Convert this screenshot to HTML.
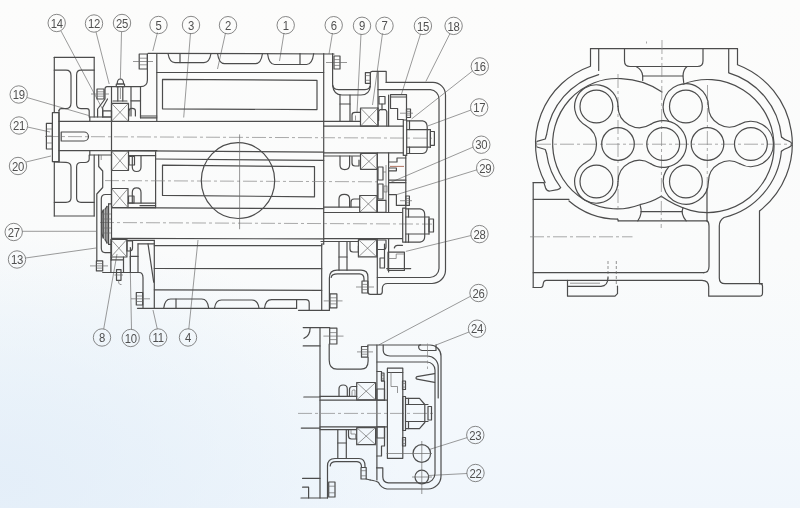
<!DOCTYPE html>
<html><head><meta charset="utf-8"><title>Roots blower sectional drawing</title>
<style>
html,body{margin:0;padding:0;background:#f8fafb;}
body{width:800px;height:508px;overflow:hidden;}
svg{display:block;}
.m{fill:none;stroke:#4c4c4c;stroke-width:1.2;stroke-linecap:round;stroke-linejoin:round;}
.t{fill:none;stroke:#6a6a6a;stroke-width:0.7;}
.ld{fill:none;stroke:#707070;stroke-width:0.7;}
.cl{fill:none;stroke:#858585;stroke-width:0.7;stroke-dasharray:14 3 3 3;}
.dash{fill:none;stroke:#666;stroke-width:0.7;stroke-dasharray:3 2;}
.red{fill:none;stroke:#a0523c;stroke-width:0.8;}
.lc{fill:none;stroke:#6a6a6a;stroke-width:0.8;}
.lt{font-family:"Liberation Sans",sans-serif;font-size:13px;fill:#505050;text-anchor:middle;letter-spacing:-0.3px;}
</style></head><body>
<svg width="800" height="508" viewBox="0 0 800 508">
<defs>
<linearGradient id="bg" x1="0" y1="0" x2="0" y2="1"><stop offset="0" stop-color="#fcfcfb"/><stop offset="0.5" stop-color="#fafbfb"/><stop offset="0.75" stop-color="#f5f9fc"/><stop offset="1" stop-color="#f0f6fc"/></linearGradient>
<radialGradient id="bl" cx="0" cy="0.95" r="0.5"><stop offset="0" stop-color="#e2edf8" stop-opacity="0.85"/><stop offset="1" stop-color="#dcebf7" stop-opacity="0"/></radialGradient>
</defs>
<rect width="800" height="508" fill="url(#bg)"/>
<rect width="800" height="508" fill="url(#bl)"/>
<circle class="lc" cx="56.7" cy="23.0" r="8.7"/>
<line class="ld" x1="61.0" y1="31.0" x2="103.0" y2="110.0"/>
<circle class="lc" cx="94.0" cy="23.5" r="8.7"/>
<line class="ld" x1="96.0" y1="32.0" x2="109.2" y2="84.0"/>
<circle class="lc" cx="122.0" cy="23.0" r="8.7"/>
<line class="ld" x1="121.5" y1="32.0" x2="120.4" y2="79.0"/>
<circle class="lc" cx="158.5" cy="25.0" r="8.7"/>
<line class="ld" x1="157.5" y1="32.5" x2="152.8" y2="51.0"/>
<circle class="lc" cx="191.0" cy="25.0" r="8.7"/>
<line class="ld" x1="190.5" y1="33.0" x2="183.7" y2="117.5"/>
<circle class="lc" cx="228.0" cy="25.2" r="8.7"/>
<line class="ld" x1="225.5" y1="33.0" x2="217.5" y2="69.0"/>
<circle class="lc" cx="285.7" cy="25.2" r="8.7"/>
<line class="ld" x1="284.0" y1="33.0" x2="279.5" y2="61.0"/>
<circle class="lc" cx="333.7" cy="25.2" r="8.7"/>
<line class="ld" x1="332.5" y1="33.0" x2="329.0" y2="54.0"/>
<circle class="lc" cx="362.0" cy="25.8" r="8.7"/>
<line class="ld" x1="361.0" y1="34.0" x2="357.0" y2="112.5"/>
<circle class="lc" cx="384.5" cy="25.8" r="8.7"/>
<line class="ld" x1="382.5" y1="33.5" x2="372.5" y2="105.0"/>
<circle class="lc" cx="422.9" cy="25.9" r="8.7"/>
<line class="ld" x1="420.5" y1="34.0" x2="401.5" y2="94.0"/>
<circle class="lc" cx="453.6" cy="25.9" r="8.7"/>
<line class="ld" x1="450.0" y1="33.5" x2="425.9" y2="81.4"/>
<circle class="lc" cx="479.8" cy="66.4" r="8.7"/>
<line class="ld" x1="472.5" y1="71.0" x2="411.5" y2="119.0"/>
<circle class="lc" cx="479.2" cy="107.4" r="8.7"/>
<line class="ld" x1="471.0" y1="110.0" x2="427.7" y2="126.0"/>
<circle class="lc" cx="481.3" cy="144.7" r="8.7"/>
<line class="ld" x1="473.3" y1="147.0" x2="390.0" y2="182.7"/>
<circle class="lc" cx="485.2" cy="167.9" r="8.7"/>
<line class="ld" x1="477.0" y1="169.8" x2="396.4" y2="194.7"/>
<circle class="lc" cx="479.5" cy="234.1" r="8.7"/>
<line class="ld" x1="471.0" y1="235.5" x2="405.8" y2="251.4"/>
<circle class="lc" cx="478.5" cy="293.0" r="8.7"/>
<line class="ld" x1="471.0" y1="296.0" x2="378.7" y2="345.0"/>
<circle class="lc" cx="477.0" cy="328.7" r="8.7"/>
<line class="ld" x1="469.0" y1="332.0" x2="436.0" y2="345.0"/>
<circle class="lc" cx="475.3" cy="435.0" r="8.7"/>
<line class="ld" x1="467.2" y1="437.6" x2="428.7" y2="449.7"/>
<circle class="lc" cx="475.5" cy="473.0" r="8.7"/>
<line class="ld" x1="467.0" y1="473.5" x2="428.7" y2="475.5"/>
<circle class="lc" cx="18.7" cy="94.5" r="8.7"/>
<line class="ld" x1="27.0" y1="97.5" x2="88.7" y2="115.5"/>
<circle class="lc" cx="19.0" cy="125.5" r="8.7"/>
<line class="ld" x1="27.5" y1="127.0" x2="50.0" y2="132.0"/>
<circle class="lc" cx="18.0" cy="166.0" r="8.7"/>
<line class="ld" x1="26.0" y1="162.0" x2="51.0" y2="156.0"/>
<circle class="lc" cx="13.7" cy="232.0" r="8.7"/>
<line class="ld" x1="22.3" y1="231.3" x2="96.0" y2="231.3"/>
<circle class="lc" cx="17.0" cy="259.5" r="8.7"/>
<line class="ld" x1="25.5" y1="258.0" x2="96.0" y2="248.0"/>
<circle class="lc" cx="102.0" cy="337.5" r="8.7"/>
<line class="ld" x1="103.7" y1="329.0" x2="117.0" y2="254.0"/>
<circle class="lc" cx="130.7" cy="338.0" r="8.7"/>
<line class="ld" x1="131.5" y1="329.3" x2="130.0" y2="256.0"/>
<circle class="lc" cx="158.2" cy="337.5" r="8.7"/>
<line class="ld" x1="157.3" y1="329.0" x2="153.0" y2="310.0"/>
<circle class="lc" cx="188.0" cy="337.5" r="8.7"/>
<line class="ld" x1="188.8" y1="329.0" x2="198.0" y2="240.0"/>
<line class="m" x1="148.0" y1="53.3" x2="334.0" y2="54.0"/>
<line class="m" x1="156.8" y1="72.5" x2="323.7" y2="72.5"/>
<line class="m" x1="156.8" y1="53.5" x2="156.8" y2="121.5"/>
<line class="m" x1="155.6" y1="151.5" x2="155.6" y2="207.6"/>
<line class="m" x1="154.3" y1="240.4" x2="154.3" y2="308.3"/>
<line class="m" x1="323.7" y1="53.5" x2="323.7" y2="244.0"/>
<line class="m" x1="321.7" y1="244.0" x2="321.7" y2="310.3"/>
<line class="m" x1="321.7" y1="244.0" x2="323.7" y2="244.0"/>
<line class="m" x1="137.5" y1="308.3" x2="296.6" y2="308.3"/>
<line class="m" x1="298.5" y1="310.3" x2="329.4" y2="310.3"/>
<line class="m" x1="154.3" y1="289.8" x2="321.7" y2="290.4"/>
<line class="m" x1="154.3" y1="245.7" x2="321.7" y2="245.7"/>
<line class="m" x1="154.3" y1="268.5" x2="321.7" y2="268.7"/>
<path class="m" d="M168,53.5 Q169.5,62.6 175,62.6 L204,62.6 Q209.5,62.6 211,53.5"/>
<line class="m" x1="180.0" y1="53.5" x2="180.0" y2="62.6"/>
<path class="m" d="M217.5,53.5 Q219.0,63.7 224.5,63.7 L255.5,63.7 Q261.0,63.7 262.5,53.5"/>
<path class="m" d="M267.5,53.5 Q269.0,64.5 274.5,64.5 L306.7,64.5 Q312.2,64.5 313.7,53.5"/>
<line class="m" x1="300.0" y1="53.5" x2="300.0" y2="64.5"/>
<path class="m" d="M163.7,308.3 Q164.7,299 170.7,299 L201.7,299 Q207.7,299 208.7,308.3"/>
<line class="m" x1="176.0" y1="308.3" x2="176.0" y2="299.0"/>
<path class="m" d="M214.5,308.3 Q215.5,300 221.5,300 L252,300 Q258,300 259,308.3"/>
<path class="m" d="M264.5,308.3 Q265.5,299.6 271.5,299.6 L306,299.6 Q309.2,299.6 309.2,303 L309.2,310.3"/>
<line class="m" x1="296.6" y1="299.6" x2="296.6" y2="308.3"/>
<path class="m" d="M162.5,79.4 L317.0,80.3 L317.0,109.6 L162.5,108.8 Z"/>
<path class="m" d="M162.5,165.1 L314.5,166.7 L314.5,196.8 L162.5,195.4 Z"/>
<line class="m" x1="111.5" y1="121.5" x2="323.7" y2="121.4"/>
<line class="m" x1="111.5" y1="150.7" x2="323.7" y2="152.1"/>
<line class="m" x1="155.6" y1="159.0" x2="323.7" y2="160.4"/>
<line class="m" x1="111.5" y1="207.6" x2="323.7" y2="208.7"/>
<line class="m" x1="111.5" y1="238.4" x2="323.7" y2="238.9"/>
<line class="cl" x1="45.0" y1="136.5" x2="432.0" y2="138.2"/>
<line class="cl" x1="105.0" y1="180.6" x2="378.0" y2="181.8"/>
<line class="cl" x1="100.0" y1="222.5" x2="432.0" y2="224.1"/>
<ellipse class="m" cx="238" cy="180.6" rx="36.7" ry="37.9"/>
<line class="t" x1="239.6" y1="134.4" x2="239.6" y2="229.2"/>
<line class="m" x1="54.3" y1="57.3" x2="94.2" y2="57.3"/>
<line class="m" x1="54.3" y1="57.3" x2="54.3" y2="112.5"/>
<line class="m" x1="54.3" y1="161.7" x2="54.3" y2="216.0"/>
<line class="m" x1="94.2" y1="57.3" x2="94.2" y2="117.0"/>
<line class="m" x1="94.2" y1="155.0" x2="94.2" y2="216.0"/>
<line class="m" x1="54.3" y1="216.0" x2="94.2" y2="216.0"/>
<path class="m" d="M54.3,70.2 L66,70.2 Q71,70.2 71,75.5 L71,103 Q71,108.6 66,108.6 L61,108.6 Q59,108.8 59,110.5"/>
<path class="m" d="M94.2,70.2 L81,70.2 Q76.6,70.2 76.6,75 L76.6,104 Q76.6,108.6 81,108.6 L87,108.6 Q89.2,108.6 89.2,111 L89.2,117"/>
<path class="m" d="M54.3,162 L66,162.3 Q71,162.5 71,167 L71,198 Q71,202.3 66,202.3 L54.3,202.3"/>
<path class="m" d="M89.2,155 L89.2,159 Q89,162.3 85,162.5 L81,162.5 Q76.6,162.5 76.6,167 L76.6,198 Q76.6,202.3 81,202.3 L94.2,202.3"/>
<line class="m" x1="59.0" y1="110.5" x2="59.0" y2="161.7"/>
<rect class="m" x="52.4" y="112.6" width="6.6" height="49.1"/>
<rect class="m" x="46.4" y="123.3" width="6.0" height="25.7"/>
<line class="t" x1="46.4" y1="129.0" x2="52.4" y2="129.0"/>
<line class="t" x1="46.4" y1="136.0" x2="52.4" y2="136.0"/>
<line class="t" x1="46.4" y1="143.0" x2="52.4" y2="143.0"/>
<line class="m" x1="59.0" y1="121.4" x2="111.5" y2="121.4"/>
<line class="m" x1="59.0" y1="150.6" x2="111.5" y2="150.6"/>
<line class="m" x1="111.5" y1="87.0" x2="111.5" y2="260.0"/>
<line class="m" x1="89.8" y1="117.0" x2="111.5" y2="117.0"/>
<line class="m" x1="89.8" y1="117.0" x2="89.8" y2="121.4"/>
<line class="m" x1="89.8" y1="155.0" x2="111.5" y2="155.0"/>
<line class="m" x1="89.8" y1="150.6" x2="89.8" y2="155.0"/>
<path class="m" d="M61.2,132 L84,132 A4.5,4.5 0 0 1 84,141 L61.2,141 Z"/>
<rect class="m" x="139.2" y="54.0" width="8.2" height="15.0"/>
<line class="t" x1="139.2" y1="58.2" x2="147.4" y2="58.2"/>
<line class="t" x1="139.2" y1="64.8" x2="147.4" y2="64.8"/>
<line class="t" x1="133.0" y1="61.5" x2="153.0" y2="61.5"/>
<path class="m" d="M147.4,54 L147.4,80 Q147.4,86.6 140.5,86.6 L107,86.6 Q105,86.8 105,89 L105,99 L97.6,109 L97.6,117"/>
<rect class="m" x="97.0" y="89.0" width="7.0" height="10.0"/>
<line class="t" x1="97.0" y1="91.8" x2="104.0" y2="91.8"/>
<line class="t" x1="97.0" y1="96.2" x2="104.0" y2="96.2"/>
<line class="t" x1="91.0" y1="94.0" x2="109.0" y2="94.0"/>
<line class="m" x1="131.0" y1="86.6" x2="131.0" y2="116.0"/>
<line class="m" x1="140.5" y1="86.6" x2="140.5" y2="117.8"/>
<line class="m" x1="131.0" y1="100.8" x2="140.5" y2="100.8"/>
<line class="m" x1="140.5" y1="116.0" x2="156.8" y2="116.0"/>
<line class="m" x1="140.5" y1="117.8" x2="156.8" y2="117.8"/>
<path class="m" d="M107.5,99.0 L102.7,107.5 L102.7,117.0"/>
<rect class="m" x="102.7" y="110.8" width="8.8" height="6.2"/>
<path class="m" d="M117.2,84 Q117.2,79 120.4,79 Q123.6,79 123.6,84 Z"/>
<rect class="m" x="116.3" y="84.0" width="8.2" height="2.6"/>
<line class="m" x1="117.8" y1="86.6" x2="117.8" y2="101.0"/>
<line class="m" x1="122.8" y1="86.6" x2="122.8" y2="101.0"/>
<line class="m" x1="113.0" y1="101.0" x2="127.0" y2="101.0"/>
<line class="t" x1="120.4" y1="88.0" x2="120.4" y2="99.0"/>
<rect class="m" x="111.5" y="103.3" width="17.0" height="18.0"/>
<line class="t" x1="111.5" y1="103.3" x2="128.5" y2="121.3"/>
<line class="t" x1="111.5" y1="121.3" x2="128.5" y2="103.3"/>
<path class="m" d="M129,116 L129,111 Q129,108.3 132,108.3 Q135.4,108.3 135.4,111 L135.4,116"/>
<rect class="m" x="111.5" y="151.0" width="17.0" height="19.5"/>
<line class="t" x1="111.5" y1="151.0" x2="128.5" y2="170.5"/>
<line class="t" x1="111.5" y1="170.5" x2="128.5" y2="151.0"/>
<rect class="m" x="111.5" y="188.5" width="16.5" height="19.1"/>
<line class="t" x1="111.5" y1="188.5" x2="128.0" y2="207.6"/>
<line class="t" x1="111.5" y1="207.6" x2="128.0" y2="188.5"/>
<rect class="m" x="110.9" y="239.4" width="16.0" height="17.6"/>
<line class="t" x1="110.9" y1="239.4" x2="126.9" y2="257.0"/>
<line class="t" x1="110.9" y1="257.0" x2="126.9" y2="239.4"/>
<line class="m" x1="128.5" y1="150.7" x2="156.8" y2="150.7"/>
<line class="m" x1="128.5" y1="155.7" x2="155.6" y2="155.7"/>
<path class="m" d="M132.3,155.7 L132.3,167 Q132.3,171.5 136.6,171.5 Q141,171.5 141,167 L141,155.7"/>
<path class="m" d="M132.3,203 L132.3,192.5 Q132.3,187.9 136.6,187.9 Q141,187.9 141,192.5 L141,203"/>
<rect class="m" x="129.0" y="156.4" width="5.5" height="8.6"/>
<rect class="m" x="128.5" y="196.0" width="5.5" height="7.0"/>
<line class="m" x1="128.0" y1="203.2" x2="155.6" y2="203.2"/>
<line class="m" x1="140.0" y1="205.7" x2="155.6" y2="205.7"/>
<line class="m" x1="128.0" y1="207.6" x2="155.6" y2="207.6"/>
<path class="m" d="M98.7,155.0 L98.7,166.5 L102.7,171.0 L102.7,187.5 L96.8,194.0 L96.8,261.0"/>
<path class="t" d="M101.2,155.0 L101.2,160.0"/>
<path class="m" d="M111.2,194.5 L105.5,194.5 Q101.3,194.5 101.3,199 L101.3,248 Q101.3,252.6 105,252.6 L110.9,252.6"/>
<line class="m" x1="102.0" y1="212.7" x2="102.0" y2="234.0"/>
<line class="m" x1="103.3" y1="210.0" x2="103.3" y2="238.0"/>
<line class="m" x1="105.2" y1="209.0" x2="105.2" y2="239.7"/>
<line class="m" x1="107.0" y1="206.4" x2="107.0" y2="243.0"/>
<line class="m" x1="108.6" y1="203.8" x2="108.6" y2="244.3"/>
<line class="m" x1="108.6" y1="203.8" x2="110.9" y2="203.8"/>
<line class="m" x1="108.6" y1="244.3" x2="110.9" y2="244.3"/>
<line class="m" x1="102.0" y1="212.7" x2="103.3" y2="210.0"/>
<line class="m" x1="102.0" y1="234.0" x2="103.3" y2="238.0"/>
<line class="m" x1="105.2" y1="209.0" x2="107.0" y2="206.4"/>
<line class="m" x1="105.2" y1="239.7" x2="107.0" y2="243.0"/>
<line class="t" x1="102.0" y1="214.0" x2="110.9" y2="214.0"/>
<line class="t" x1="102.0" y1="219.0" x2="110.9" y2="219.0"/>
<line class="t" x1="102.0" y1="228.0" x2="110.9" y2="228.0"/>
<line class="t" x1="102.0" y1="233.0" x2="110.9" y2="233.0"/>
<rect class="m" x="96.4" y="260.8" width="6.3" height="10.1"/>
<line class="t" x1="96.4" y1="263.6" x2="102.7" y2="263.6"/>
<line class="t" x1="96.4" y1="268.1" x2="102.7" y2="268.1"/>
<line class="t" x1="90.0" y1="265.9" x2="108.0" y2="265.9"/>
<path class="m" d="M102.7,272.5 L139.2,272.5 Q143,272.5 143,277.8 L143,308.3"/>
<line class="m" x1="110.9" y1="257.0" x2="110.9" y2="272.5"/>
<line class="m" x1="123.5" y1="257.0" x2="123.5" y2="272.5"/>
<line class="m" x1="110.9" y1="259.8" x2="123.5" y2="259.8"/>
<rect class="m" x="116.5" y="269.6" width="4.5" height="10.7"/>
<line class="t" x1="114.5" y1="275.0" x2="123.0" y2="275.0"/>
<path class="t" d="M118.7,280.3 L118.7,283 Q119.5,285 121.5,284.5"/>
<line class="m" x1="130.4" y1="247.5" x2="130.4" y2="272.5"/>
<line class="m" x1="138.0" y1="243.8" x2="138.0" y2="272.5"/>
<line class="m" x1="130.4" y1="256.4" x2="138.0" y2="256.4"/>
<path class="m" d="M127,251 L127,241 L132.5,241 L132.5,248 Q132.5,251 129.5,251 Z"/>
<line class="m" x1="127.0" y1="240.4" x2="154.3" y2="240.4"/>
<line class="m" x1="138.0" y1="243.8" x2="154.3" y2="243.8"/>
<line class="m" x1="148.0" y1="243.8" x2="153.7" y2="282.2"/>
<rect class="m" x="136.3" y="292.5" width="6.4" height="12.5"/>
<line class="t" x1="136.3" y1="296.0" x2="142.7" y2="296.0"/>
<line class="t" x1="136.3" y1="301.5" x2="142.7" y2="301.5"/>
<line class="t" x1="131.0" y1="298.8" x2="150.0" y2="298.8"/>
<rect class="m" x="334.0" y="56.0" width="6.0" height="13.0"/>
<line class="t" x1="334.0" y1="59.6" x2="340.0" y2="59.6"/>
<line class="t" x1="334.0" y1="65.4" x2="340.0" y2="65.4"/>
<line class="t" x1="326.0" y1="62.5" x2="347.0" y2="62.5"/>
<path class="m" d="M332.6,53.5 L332.6,84 Q332.6,89.6 338.5,89.6 L365,89.6 Q370.4,89.6 370.4,84 L370.4,73 Q370.6,71.3 372.3,71.3 L386.2,71.3 L386.2,82.4"/>
<path class="m" d="M332.6,85 Q333.5,95 342,95 L361,95 Q369.5,95 370.4,86"/>
<rect class="m" x="365.4" y="72.6" width="5.0" height="10.7"/>
<line class="t" x1="365.4" y1="75.6" x2="370.4" y2="75.6"/>
<line class="t" x1="365.4" y1="80.3" x2="370.4" y2="80.3"/>
<line class="m" x1="378.0" y1="71.3" x2="378.0" y2="108.0"/>
<line class="m" x1="340.0" y1="95.0" x2="340.0" y2="121.3"/>
<line class="m" x1="350.0" y1="95.0" x2="350.0" y2="121.3"/>
<line class="m" x1="340.0" y1="104.0" x2="350.0" y2="104.0"/>
<line class="m" x1="323.7" y1="121.3" x2="360.5" y2="121.3"/>
<line class="m" x1="323.7" y1="126.1" x2="403.5" y2="126.1"/>
<line class="m" x1="323.7" y1="152.8" x2="403.5" y2="152.8"/>
<line class="m" x1="323.7" y1="156.0" x2="360.5" y2="156.0"/>
<rect class="m" x="360.5" y="108.0" width="17.5" height="18.1"/>
<line class="t" x1="360.5" y1="108.0" x2="378.0" y2="126.1"/>
<line class="t" x1="360.5" y1="126.1" x2="378.0" y2="108.0"/>
<rect class="m" x="360.5" y="153.5" width="16.8" height="15.8"/>
<line class="t" x1="360.5" y1="153.5" x2="377.3" y2="169.3"/>
<line class="t" x1="360.5" y1="169.3" x2="377.3" y2="153.5"/>
<rect class="m" x="359.7" y="195.5" width="17.3" height="16.8"/>
<line class="t" x1="359.7" y1="195.5" x2="377.0" y2="212.3"/>
<line class="t" x1="359.7" y1="212.3" x2="377.0" y2="195.5"/>
<rect class="m" x="358.4" y="239.6" width="18.3" height="17.3"/>
<line class="t" x1="358.4" y1="239.6" x2="376.7" y2="256.9"/>
<line class="t" x1="358.4" y1="256.9" x2="376.7" y2="239.6"/>
<path class="m" d="M352,120.5 L352,115 Q352,112.3 355,112.3 L360.5,112.3"/>
<line class="t" x1="355.5" y1="115.5" x2="355.5" y2="120.5"/>
<path class="m" d="M340,156 L340,165 Q340,169.6 344.8,169.6 Q349.6,169.6 349.6,165 L349.6,156"/>
<path class="m" d="M339,207 L339,199 Q339,194.3 344.3,194.3 Q349.6,194.3 349.6,199 L349.6,207"/>
<path class="m" d="M352,156.5 L352,163 Q352,166 355,166 L359,166 L359,160"/>
<path class="m" d="M359.7,199 L354,199 Q351,199 351,202 L351,207"/>
<line class="m" x1="323.7" y1="207.2" x2="359.7" y2="207.2"/>
<line class="m" x1="323.7" y1="212.5" x2="402.5" y2="212.5"/>
<line class="m" x1="323.7" y1="238.7" x2="402.5" y2="238.7"/>
<line class="m" x1="321.0" y1="241.5" x2="358.4" y2="241.5"/>
<path class="m" d="M350,241.5 L350,249 Q350,252 353,252 L358.4,252 L358.4,246"/>
<line class="m" x1="339.0" y1="241.5" x2="339.0" y2="270.2"/>
<line class="m" x1="347.0" y1="241.5" x2="347.0" y2="270.2"/>
<line class="m" x1="339.0" y1="257.0" x2="347.0" y2="257.0"/>
<line class="m" x1="378.0" y1="108.0" x2="378.0" y2="126.1"/>
<line class="m" x1="377.3" y1="152.8" x2="377.3" y2="212.5"/>
<line class="m" x1="377.3" y1="238.7" x2="377.3" y2="294.3"/>
<line class="m" x1="388.6" y1="95.0" x2="388.6" y2="126.1"/>
<line class="m" x1="388.6" y1="152.8" x2="388.6" y2="212.5"/>
<line class="m" x1="388.6" y1="238.7" x2="388.6" y2="272.0"/>
<path class="m" d="M329.4,310.3 L329.4,278 Q329.4,270.2 337,270.2 L361,270.2 Q367.9,270.2 367.9,277 L367.9,292 Q368,294.3 370.4,294.3 L380,294.3 Q382.3,294.3 382.3,291.5 L382.3,288.5 Q382.5,283.5 387.6,283.5"/>
<path class="m" d="M331.2,277.5 Q331.5,273.9 337.6,273.9 L359.5,273.9 Q364,274 364,279 L364,281"/>
<rect class="m" x="362.0" y="281.0" width="5.9" height="12.0"/>
<line class="t" x1="362.0" y1="284.4" x2="367.9" y2="284.4"/>
<line class="t" x1="362.0" y1="289.6" x2="367.9" y2="289.6"/>
<line class="t" x1="356.0" y1="287.0" x2="374.0" y2="287.0"/>
<rect class="m" x="330.0" y="293.9" width="6.9" height="13.9"/>
<line class="t" x1="330.0" y1="297.8" x2="336.9" y2="297.8"/>
<line class="t" x1="330.0" y1="303.9" x2="336.9" y2="303.9"/>
<line class="t" x1="323.7" y1="300.9" x2="342.5" y2="300.9"/>
<path class="m" d="M386.2,82.4 L433,82.4 A12.6,12.6 0 0 1 445.5,95 L445.5,270 A13.5,13.5 0 0 1 432,283.5 L387.6,283.5"/>
<path class="m" d="M378,89.6 L430.4,89.6 A9.4,9.4 0 0 1 439,99 L439,268.5 A9.4,9.4 0 0 1 429.8,277.5 L377.3,277.5"/>
<rect class="m" x="390.5" y="94.6" width="16.0" height="2.4"/>
<path class="m" d="M390.5,97.0 L390.5,108.5 L397.6,108.5 L397.6,119.5 L403.3,119.5"/>
<line class="m" x1="406.5" y1="97.0" x2="406.5" y2="120.0"/>
<rect class="m" x="406.5" y="109.0" width="4.0" height="8.5"/>
<line class="t" x1="406.5" y1="111.4" x2="410.5" y2="111.4"/>
<line class="t" x1="406.5" y1="115.1" x2="410.5" y2="115.1"/>
<line class="t" x1="400.0" y1="113.2" x2="413.0" y2="113.2"/>
<rect class="m" x="379.0" y="96.5" width="6.0" height="7.5"/>
<line class="m" x1="382.0" y1="104.0" x2="382.0" y2="109.7"/>
<path class="m" d="M378.6,120.5 L378.6,111.5 L380,109.7 L385.5,109.7 L386.8,111.5 L386.8,126"/>
<rect class="m" x="403.3" y="120.0" width="3.4" height="35.4"/>
<path class="m" d="M406.7,120.8 L422.5,120.8 Q427.2,121.5 427.2,127 L427.2,148 Q427.2,153 422.5,153.5 L406.7,153.5"/>
<line class="m" x1="409.5" y1="120.8" x2="409.5" y2="129.6"/>
<line class="m" x1="409.5" y1="147.2" x2="409.5" y2="153.5"/>
<line class="m" x1="406.7" y1="129.6" x2="430.4" y2="129.6"/>
<line class="m" x1="406.7" y1="147.2" x2="430.4" y2="147.2"/>
<line class="m" x1="430.4" y1="129.6" x2="430.4" y2="147.2"/>
<rect class="m" x="430.4" y="131.5" width="4.0" height="13.8"/>
<rect class="m" x="402.7" y="208.2" width="3.1" height="34.0"/>
<path class="m" d="M405.8,208.8 L420,208.8 Q424.7,209.5 424.7,214.5 L424.7,236.5 Q424.7,241.5 420,242.2 L405.8,242.2"/>
<line class="m" x1="408.5" y1="208.8" x2="408.5" y2="217.0"/>
<line class="m" x1="408.5" y1="234.0" x2="408.5" y2="242.2"/>
<line class="m" x1="405.8" y1="217.0" x2="429.0" y2="217.0"/>
<line class="m" x1="405.8" y1="234.0" x2="429.0" y2="234.0"/>
<line class="m" x1="429.0" y1="217.0" x2="429.0" y2="234.0"/>
<rect class="m" x="429.0" y="219.0" width="4.5" height="13.0"/>
<line class="m" x1="405.8" y1="155.4" x2="405.8" y2="208.2"/>
<path class="m" d="M405.8,158.0 L397.0,158.0 L397.0,162.0 L388.6,162.0"/>
<line class="red" x1="390.0" y1="166.4" x2="404.0" y2="166.4"/>
<path class="m" d="M388.6,168.0 L396.4,168.0 L396.4,170.8 L388.6,170.8"/>
<line class="m" x1="388.6" y1="180.2" x2="405.8" y2="180.2"/>
<line class="m" x1="388.6" y1="182.7" x2="405.8" y2="182.7"/>
<path class="m" d="M388.6,194.7 L396.4,194.7 L396.4,205.4 L405.8,205.4"/>
<rect class="m" x="405.8" y="196.0" width="3.6" height="9.4"/>
<line class="t" x1="405.8" y1="198.6" x2="409.4" y2="198.6"/>
<line class="t" x1="405.8" y1="202.8" x2="409.4" y2="202.8"/>
<line class="t" x1="400.0" y1="200.7" x2="412.0" y2="200.7"/>
<rect class="m" x="378.0" y="167.0" width="5.0" height="13.0"/>
<rect class="m" x="378.0" y="184.0" width="5.0" height="15.0"/>
<rect class="m" x="377.3" y="200.3" width="8.7" height="12.0"/>
<line class="t" x1="383.0" y1="172.0" x2="386.0" y2="172.0"/>
<line class="t" x1="386.0" y1="165.0" x2="386.0" y2="200.3"/>
<rect class="t" x="384.0" y="186.0" width="3.0" height="6.0"/>
<path class="m" d="M394.3,248 Q395,245.3 397.5,245.3 L402.5,245.3"/>
<rect class="m" x="388.0" y="252.2" width="16.4" height="18.3"/>
<path class="t" d="M388.0,258.5 L396.2,258.5 L396.2,254.0 L404.4,254.0"/>
<line class="m" x1="386.7" y1="268.6" x2="410.7" y2="268.6"/>
<rect class="m" x="380.0" y="258.0" width="4.5" height="10.0"/>
<line class="m" x1="384.5" y1="244.0" x2="384.5" y2="258.0"/>
<path class="m" d="M378.2,240 L386,240 L386,247 Q386,249.5 383.5,249.5 L378.2,249.5"/>
<line class="m" x1="590.5" y1="48.7" x2="737.5" y2="48.7"/>
<line class="m" x1="590.5" y1="48.7" x2="590.5" y2="65.5"/>
<line class="m" x1="598.7" y1="48.7" x2="598.7" y2="70.5"/>
<line class="m" x1="737.5" y1="48.7" x2="737.5" y2="64.5"/>
<line class="m" x1="728.7" y1="48.7" x2="728.7" y2="72.5"/>
<path class="m" d="M624.5,48.7 L624.5,61 Q624.5,66.5 630,66.5 L697.5,66.5 Q703,66.5 703,61 L703,48.7"/>
<path class="m" d="M636.4,66.8 Q642,69.5 642.7,76 L642.7,80.5"/>
<path class="m" d="M686.8,66.8 Q683.3,69.5 683,76 L683.7,82.5"/>
<line class="m" x1="642.7" y1="76.0" x2="683.0" y2="76.0"/>
<path class="m" d="M590.5,66.2 A82.5,82.5 0 0 0 545.1,182.6"/>
<path class="m" d="M598.7,74.6 A72.0,72.0 0 0 0 546.6,134.5"/>
<path class="m" d="M546.6,134.5 L545.3,139.0 L537.0,141.3"/>
<path class="m" d="M537.0,147.0 L545.3,149.5 L546.6,153.5"/>
<path class="m" d="M546.6,153.5 A72.0,72.0 0 0 0 560.6,187.5"/>
<path class="m" d="M543.9,182.6 L545.6,188 Q546.8,191.3 550,191 L557.5,189.7 Q560,189 560.6,187.5"/>
<path class="m" d="M661.3,196.3 Q651,202.5 639.9,204.7 A64.5,65.2 0 1 1 621.0,78.6 Q644,79.5 662,92"/>
<path class="m" d="M683.0,84.2 A66.5,66.5 0 1 1 690.5,210.3 Q675,206 661.3,196.3"/>
<path class="m" d="M737.5,64.7 A84.8,84.8 0 0 1 759.5,211.0"/>
<line class="m" x1="759.5" y1="211.0" x2="759.5" y2="283.7"/>
<path class="m" d="M728.7,72.8 A74.3,74.3 0 0 1 781.5,137.0"/>
<path class="m" d="M781.5,137 Q784,139.5 788,140.7 Q791.5,142 792,144.2 Q791.5,146.5 788,147.7 Q784,149 781.4,151.3"/>
<path class="m" d="M781.4,151.3 A74.8,75.3 0 0 1 724.0,217.5 Q719.3,220.5 719.3,226 L719.3,278 Q719.3,283.7 725,283.7 L762.3,283.7"/>
<path class="t" d="M537,141.3 Q535.5,144.2 537,147"/>
<line class="m" x1="533.2" y1="182.6" x2="543.9" y2="182.6"/>
<line class="m" x1="533.2" y1="182.6" x2="533.2" y2="287.5"/>
<path class="m" d="M533.2,287.5 L541,287.5 Q543,287.5 543.2,284 Q543.5,280.3 546.5,280.3 L702,280.3 Q708.7,280.3 708.7,287 L708.7,296.2 L759.5,296.2 Q762.5,296.2 762.5,293 L762.5,286 Q762.5,283.7 760,283.7"/>
<line class="m" x1="533.2" y1="272.7" x2="704.0" y2="272.7"/>
<path class="m" d="M703.5,272.7 Q709,272.7 709,266.5 L709,226 Q709,222 707,220.9"/>
<line class="m" x1="533.2" y1="199.3" x2="569.0" y2="199.3"/>
<path class="m" d="M569.0,201.0 A75.2,75.2 0 0 0 617.6,219.2"/>
<line class="m" x1="617.8" y1="219.2" x2="618.2" y2="220.9"/>
<line class="m" x1="618.2" y1="220.9" x2="707.0" y2="220.9"/>
<line class="m" x1="707.0" y1="189.0" x2="707.0" y2="220.9"/>
<line class="m" x1="641.0" y1="211.7" x2="682.0" y2="211.7"/>
<path class="m" d="M640.2,205.5 Q643,213.5 637.8,220.9"/>
<path class="m" d="M683,207.8 Q680.3,214 686.2,220.9"/>
<path class="m" d="M567.5,280.3 L567.5,296.2 L615.0,296.2 L617.5,293.7 L617.5,286.2"/>
<path class="m" d="M567.5,286.3 L601,286.3 Q608,286 608,277.5"/>
<line class="dash" x1="608.0" y1="261.0" x2="608.0" y2="280.0"/>
<line class="dash" x1="616.3" y1="261.0" x2="616.3" y2="286.2"/>
<line class="t" x1="570.0" y1="283.2" x2="600.0" y2="283.2"/>
<line class="cl" x1="537.0" y1="144.2" x2="793.0" y2="144.2"/>
<line class="cl" x1="618.0" y1="74.0" x2="618.0" y2="212.0"/>
<line class="cl" x1="662.0" y1="40.0" x2="661.2" y2="228.0"/>
<line class="cl" x1="707.5" y1="85.0" x2="707.2" y2="189.0"/>
<line class="cl" x1="530.0" y1="236.8" x2="632.5" y2="236.8"/>
<line class="cl" x1="646.5" y1="41.5" x2="646.5" y2="43.5"/>
<path class="m" d="M650.8,124.3 A23.3,23.3 0 1 1 650.8,163.7"/>
<path class="m" d="M650.8,163.7 A21.4,21.4 0 0 0 618.0,181.7"/>
<path class="m" d="M618.0,181.7 A21.7,21.7 0 1 1 585.7,162.6"/>
<path class="m" d="M585.7,162.6 A21.4,21.4 0 0 0 585.7,125.4"/>
<path class="m" d="M585.7,125.4 A21.7,21.7 0 1 1 618.0,106.3"/>
<path class="m" d="M618.0,106.3 A21.4,21.4 0 0 0 650.8,124.3"/>
<path class="m" d="M739.8,124.3 A22.6,22.6 0 1 1 739.8,163.7"/>
<path class="m" d="M739.8,163.7 A21.0,21.0 0 0 0 708.4,181.7"/>
<path class="m" d="M708.4,181.7 A22.6,22.6 0 1 1 668.9,166.6"/>
<path class="m" d="M668.9,121.4 A22.6,22.6 0 1 1 708.4,106.3"/>
<path class="m" d="M708.4,106.3 A21.0,21.0 0 0 0 739.8,124.3"/>
<circle class="m" cx="618.0" cy="144.0" r="16.3"/>
<circle class="m" cx="707.5" cy="144.0" r="16.3"/>
<circle class="m" cx="663.2" cy="144.0" r="16.4"/>
<circle class="m" cx="596.4" cy="181.5" r="16.4"/>
<circle class="m" cx="596.4" cy="106.5" r="16.4"/>
<circle class="m" cx="750.9" cy="144.0" r="16.4"/>
<circle class="m" cx="685.9" cy="181.5" r="16.4"/>
<circle class="m" cx="685.9" cy="106.5" r="16.4"/>
<line class="m" x1="303.2" y1="327.6" x2="329.7" y2="327.6"/>
<path class="m" d="M310.2,327.6 Q310,336.5 303.9,338.3"/>
<line class="m" x1="303.2" y1="345.9" x2="320.0" y2="345.9"/>
<line class="m" x1="320.0" y1="327.5" x2="320.0" y2="498.0"/>
<line class="m" x1="303.8" y1="397.0" x2="320.0" y2="397.0"/>
<line class="m" x1="301.3" y1="428.1" x2="320.0" y2="428.1"/>
<rect class="m" x="329.7" y="328.2" width="7.2" height="15.8"/>
<line class="t" x1="329.7" y1="332.6" x2="336.9" y2="332.6"/>
<line class="t" x1="329.7" y1="339.6" x2="336.9" y2="339.6"/>
<line class="t" x1="323.4" y1="336.1" x2="343.5" y2="336.1"/>
<path class="m" d="M329.2,344 L329.2,360 Q329.2,369.2 337,369.2 L361,369.2 Q368.1,369.2 368.1,361 L368.1,357.5"/>
<rect class="m" x="361.5" y="346.5" width="6.3" height="10.7"/>
<line class="t" x1="361.5" y1="349.5" x2="367.8" y2="349.5"/>
<line class="t" x1="361.5" y1="354.2" x2="367.8" y2="354.2"/>
<line class="t" x1="357.0" y1="351.9" x2="373.0" y2="351.9"/>
<path class="m" d="M367.8,346.5 L367.8,345 L430,345 A11,11 0 0 1 441,356 L441,476 A13,13 0 0 1 428,489 L387,489 Q381,488 378.5,482.5 Q376.5,481 370.2,480"/>
<path class="m" d="M383.2,345 L383.2,350.5 Q383.5,355.8 390,356 L427,356 A11,11 0 0 1 438.2,367 L438.2,398"/>
<path class="m" d="M376.9,362 L427,362 A8,8 0 0 1 435,370 L435,473.5 A9.5,9.5 0 0 1 425.5,482.9 L388.5,482.9 Q383,482.5 382.8,477 L382.8,467.8 L376.5,467.8"/>
<path class="m" d="M418.7,347.5 L418.7,346 Q419,344.8 420.5,344.8 M436,344.8 L436,350.5 L422,350.5 Q419,350 418.7,347.5"/>
<line class="cl" x1="427.5" y1="343.5" x2="427.5" y2="369.0"/>
<path class="m" d="M434.6,373.6 L417,376.6 Q415,378 417,379.2 L434.6,382.3"/>
<line class="m" x1="376.9" y1="345.0" x2="376.9" y2="480.0"/>
<line class="m" x1="320.0" y1="400.2" x2="387.4" y2="400.2"/>
<line class="m" x1="320.0" y1="426.9" x2="387.4" y2="426.9"/>
<line class="m" x1="320.0" y1="396.4" x2="356.7" y2="396.4"/>
<line class="m" x1="320.0" y1="429.7" x2="356.7" y2="429.7"/>
<line class="cl" x1="298.0" y1="413.4" x2="436.0" y2="413.4"/>
<rect class="m" x="356.7" y="382.5" width="18.9" height="17.4"/>
<line class="t" x1="356.7" y1="382.5" x2="375.6" y2="399.9"/>
<line class="t" x1="356.7" y1="399.9" x2="375.6" y2="382.5"/>
<rect class="m" x="356.7" y="427.6" width="18.9" height="17.1"/>
<line class="t" x1="356.7" y1="427.6" x2="375.6" y2="444.7"/>
<line class="t" x1="356.7" y1="444.7" x2="375.6" y2="427.6"/>
<path class="m" d="M339,396.4 L339,389 Q339,385 343.2,385 Q347.3,385 347.3,389 L347.3,396.4"/>
<path class="m" d="M349.5,396.4 L349.5,389.5 Q349.5,386.5 352.5,386.5 L356.7,386.5"/>
<path class="t" d="M352,396.4 L352,391.5 Q352,390 353.5,390 L355,390 L355,396.4"/>
<path class="m" d="M348.5,429.7 L348.5,436 Q348.5,439 351.5,439 L356.7,439"/>
<path class="t" d="M351,429.7 L351,434 L355.5,434 L355.5,439"/>
<line class="m" x1="337.8" y1="429.7" x2="337.8" y2="458.5"/>
<line class="m" x1="346.3" y1="429.7" x2="346.3" y2="458.5"/>
<line class="m" x1="337.8" y1="443.0" x2="346.3" y2="443.0"/>
<path class="m" d="M327.5,498 L327.5,466 Q327.5,458.5 335,458.5 L359,458.5 Q365,458.5 365,466 L365,467.5"/>
<path class="m" d="M330.2,466 Q330.5,461.7 336,461.7 L357,461.7 Q361.5,462 361.5,467"/>
<rect class="m" x="361.0" y="467.5" width="5.2" height="11.5"/>
<line class="t" x1="361.0" y1="470.7" x2="366.2" y2="470.7"/>
<line class="t" x1="361.0" y1="475.8" x2="366.2" y2="475.8"/>
<path class="m" d="M366.2,479 L370.2,480"/>
<rect class="m" x="328.7" y="482.0" width="6.3" height="15.0"/>
<line class="t" x1="328.7" y1="486.2" x2="335.0" y2="486.2"/>
<line class="t" x1="328.7" y1="492.8" x2="335.0" y2="492.8"/>
<line class="m" x1="301.0" y1="498.0" x2="327.5" y2="498.0"/>
<line class="m" x1="302.6" y1="478.4" x2="320.0" y2="478.4"/>
<path class="m" d="M302.6,487.2 L308.6,487.2 L308.6,498.0"/>
<rect class="m" x="387.4" y="368.2" width="15.4" height="90.1"/>
<line class="m" x1="387.4" y1="372.5" x2="402.8" y2="372.5"/>
<path class="t" d="M391.0,372.0 L391.0,386.5 L397.5,386.5 L397.5,393.0"/>
<rect class="m" x="402.5" y="381.0" width="3.0" height="8.5"/>
<line class="t" x1="402.5" y1="383.4" x2="405.5" y2="383.4"/>
<line class="t" x1="402.5" y1="387.1" x2="405.5" y2="387.1"/>
<rect class="m" x="402.5" y="437.5" width="3.0" height="8.5"/>
<line class="t" x1="402.5" y1="439.9" x2="405.5" y2="439.9"/>
<line class="t" x1="402.5" y1="443.6" x2="405.5" y2="443.6"/>
<path class="m" d="M376.9,371.5 L381.5,371.5 L381.5,381.0 L384.5,381.0 L384.5,400.2"/>
<rect class="m" x="381.5" y="373.0" width="2.5" height="8.0"/>
<line class="t" x1="381.5" y1="375.2" x2="384.0" y2="375.2"/>
<line class="t" x1="381.5" y1="378.8" x2="384.0" y2="378.8"/>
<rect class="m" x="376.9" y="389.0" width="7.6" height="11.2"/>
<path class="m" d="M376.9,456.0 L381.5,456.0 L381.5,446.0 L384.5,446.0 L384.5,426.9"/>
<rect class="m" x="376.9" y="426.9" width="7.6" height="11.1"/>
<rect class="m" x="402.8" y="396.5" width="2.7" height="34.0"/>
<path class="m" d="M405.5,398.3 L419.5,398.3 L424.8,404.5 L424.8,422.5 L419.5,428.6 L405.5,428.6"/>
<line class="m" x1="408.5" y1="398.3" x2="408.5" y2="404.5"/>
<line class="m" x1="408.5" y1="421.5" x2="408.5" y2="428.6"/>
<line class="m" x1="405.5" y1="404.5" x2="428.0" y2="404.5"/>
<line class="m" x1="405.5" y1="421.5" x2="428.0" y2="421.5"/>
<rect class="m" x="428.0" y="406.5" width="3.5" height="13.5"/>
<circle class="m" cx="421.8" cy="453.5" r="8.8"/>
<circle class="m" cx="421.8" cy="477.0" r="6.8"/>
<line class="t" x1="421.8" y1="441.0" x2="421.8" y2="494.0"/>
<line class="t" x1="386.5" y1="453.5" x2="432.0" y2="453.5"/>
<line class="t" x1="412.0" y1="477.0" x2="432.0" y2="477.0"/>
<g style="filter:grayscale(1)">
<text class="lt" transform="translate(56.7,27.6) scale(0.87,1)">14</text>
<text class="lt" transform="translate(94.0,28.1) scale(0.87,1)">12</text>
<text class="lt" transform="translate(122.0,27.6) scale(0.87,1)">25</text>
<text class="lt" transform="translate(158.5,29.6) scale(0.87,1)">5</text>
<text class="lt" transform="translate(191.0,29.6) scale(0.87,1)">3</text>
<text class="lt" transform="translate(228.0,29.8) scale(0.87,1)">2</text>
<text class="lt" transform="translate(285.7,29.8) scale(0.87,1)">1</text>
<text class="lt" transform="translate(333.7,29.8) scale(0.87,1)">6</text>
<text class="lt" transform="translate(362.0,30.4) scale(0.87,1)">9</text>
<text class="lt" transform="translate(384.5,30.4) scale(0.87,1)">7</text>
<text class="lt" transform="translate(422.9,30.5) scale(0.87,1)">15</text>
<text class="lt" transform="translate(453.6,30.5) scale(0.87,1)">18</text>
<text class="lt" transform="translate(479.8,71.0) scale(0.87,1)">16</text>
<text class="lt" transform="translate(479.2,112.0) scale(0.87,1)">17</text>
<text class="lt" transform="translate(481.3,149.3) scale(0.87,1)">30</text>
<text class="lt" transform="translate(485.2,172.5) scale(0.87,1)">29</text>
<text class="lt" transform="translate(479.5,238.7) scale(0.87,1)">28</text>
<text class="lt" transform="translate(478.5,297.6) scale(0.87,1)">26</text>
<text class="lt" transform="translate(477.0,333.3) scale(0.87,1)">24</text>
<text class="lt" transform="translate(475.3,439.6) scale(0.87,1)">23</text>
<text class="lt" transform="translate(475.5,477.6) scale(0.87,1)">22</text>
<text class="lt" transform="translate(18.7,99.1) scale(0.87,1)">19</text>
<text class="lt" transform="translate(19.0,130.1) scale(0.87,1)">21</text>
<text class="lt" transform="translate(18.0,170.6) scale(0.87,1)">20</text>
<text class="lt" transform="translate(13.7,236.6) scale(0.87,1)">27</text>
<text class="lt" transform="translate(17.0,264.1) scale(0.87,1)">13</text>
<text class="lt" transform="translate(102.0,342.1) scale(0.87,1)">8</text>
<text class="lt" transform="translate(130.7,342.6) scale(0.87,1)">10</text>
<text class="lt" transform="translate(158.2,342.1) scale(0.87,1)">11</text>
<text class="lt" transform="translate(188.0,342.1) scale(0.87,1)">4</text>
</g>
</svg>
</body></html>
